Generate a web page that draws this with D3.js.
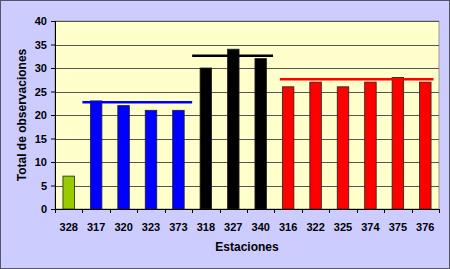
<!DOCTYPE html>
<html>
<head>
<meta charset="utf-8">
<script src="https://cdn.jsdelivr.net/npm/d3@7"></script>
<style>
  body { margin: 0; background: #fff; }
  svg text { font-family: Arial, "Liberation Sans", sans-serif; font-weight: bold; fill: #000; }
</style>
</head>
<body>
<script>
// stations and their totals
var stations = ["328", "317", "320", "323", "373", "318", "327", "340", "316", "322", "325", "374", "375", "376"];
var totals = [7, 23, 22, 21, 21, 30, 34, 32, 26, 27, 26, 27, 28, 27];
var groups = ["g0", "g1", "g1", "g1", "g1", "g2", "g2", "g2", "g3", "g3", "g3", "g3", "g3", "g3"];
var groupColors = {g0: "#99cc00", g1: "#0000ff", g2: "#000000", g3: "#ff0000"};

// group mean lines: value, start and end in category units
var meanValues = [22.7, 32.6, 27.6];
var meanStart = [1, 5, 8.2];
var meanEnd = [5, 7.95, 13.8];
var meanColors = ["#0000ff", "#000000", "#ff0000"];

var yTicks = [0, 5, 10, 15, 20, 25, 30, 35, 40];

var W = 450, H = 269;
var margin = {top: 21, right: 11, bottom: 60, left: 55},
    width = W - margin.left - margin.right,
    height = H - margin.top - margin.bottom;

var svg = d3.select("body").append("svg")
    .attr("width", W)
    .attr("height", H);

// outer background + frame
svg.append("rect")
    .attr("x", 0.5).attr("y", 0.5)
    .attr("width", W - 1).attr("height", H - 1)
    .attr("fill", "#ccccff")
    .attr("stroke", "#555566");

var g = svg.append("g")
    .attr("transform", "translate(" + margin.left + "," + margin.top + ")");

var x = d3.scaleBand().domain(stations).range([0, width]);
var xc = d3.scaleLinear().domain([0, stations.length]).range([0, width]);
var y = d3.scaleLinear().domain([0, 40]).range([height, 0]);

g.append("rect")
    .attr("width", width).attr("height", height)
    .attr("fill", "#ffffcc")
    .attr("stroke", "#999999");

// gridlines
g.selectAll("line.grid")
    .data(yTicks.slice(1))
  .enter().append("line")
    .attr("class", "grid")
    .attr("x1", 0).attr("x2", width)
    .attr("y1", function(d) { return Math.round(y(d)) + 0.5; })
    .attr("y2", function(d) { return Math.round(y(d)) + 0.5; })
    .attr("stroke", "#555555")
    .attr("stroke-width", 1);

// bars
var bw = x.bandwidth() * 0.42;
g.selectAll("rect.bar")
    .data(totals)
  .enter().append("rect")
    .attr("class", "bar")
    .attr("x", function(d, i) { return x(stations[i]) + (x.bandwidth() - bw) / 2; })
    .attr("y", function(d) { return y(d); })
    .attr("width", bw)
    .attr("height", function(d) { return height - y(d); })
    .attr("fill", function(d, i) { return groupColors[groups[i]]; })
    .attr("stroke", "#222222")
    .attr("stroke-width", 0.8);

// mean lines
g.selectAll("line.mean")
    .data(meanValues)
  .enter().append("line")
    .attr("class", "mean")
    .attr("x1", function(d, i) { return xc(meanStart[i]); })
    .attr("x2", function(d, i) { return xc(meanEnd[i]); })
    .attr("y1", function(d) { return y(d); })
    .attr("y2", function(d) { return y(d); })
    .attr("stroke", function(d, i) { return meanColors[i]; })
    .attr("stroke-width", 2.5);

// y axis
var yAxis = g.append("g")
    .call(d3.axisLeft(y).tickValues(yTicks).tickSize(4).tickPadding(4));
yAxis.select(".domain").attr("stroke", "#000").attr("d", "M0.5," + height + "V0");
yAxis.selectAll("text").style("font-size", "11px");

// x axis with ticks between categories
var xAxis = g.append("g")
    .attr("transform", "translate(0," + height + ")");
xAxis.append("line")
    .attr("x1", 0).attr("x2", width)
    .attr("y1", 0.5).attr("y2", 0.5)
    .attr("stroke", "#000");
xAxis.selectAll("line.tick")
    .data(d3.range(stations.length + 1))
  .enter().append("line")
    .attr("class", "tick")
    .attr("x1", function(d) { return Math.round(xc(d)) + 0.5; })
    .attr("x2", function(d) { return Math.round(xc(d)) + 0.5; })
    .attr("y1", 0).attr("y2", 4)
    .attr("stroke", "#000");
xAxis.selectAll("text")
    .data(stations)
  .enter().append("text")
    .attr("x", function(d) { return x(d) + x.bandwidth() / 2; })
    .attr("y", 22)
    .attr("text-anchor", "middle")
    .style("font-size", "11px")
    .text(function(d) { return d; });

// axis titles
svg.append("text")
    .attr("x", margin.left + width / 2)
    .attr("y", 251)
    .attr("text-anchor", "middle")
    .style("font-size", "12px")
    .text("Estaciones");

svg.append("text")
    .attr("transform", "translate(26," + (margin.top + height / 2) + ") rotate(-90)")
    .attr("text-anchor", "middle")
    .style("font-size", "12px")
    .text("Total de observaciones");
</script>
</body>
</html>
